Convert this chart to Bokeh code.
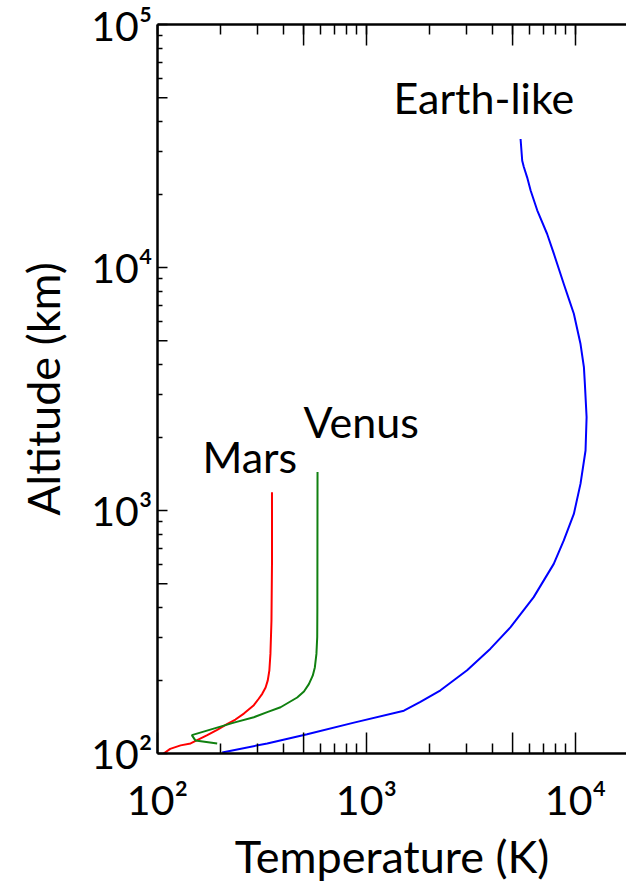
import math
from bokeh.plotting import figure
from bokeh.models import FixedTicker, LogAxis, Range1d
from bokeh.core.properties import value
from bokeh.embed import file_html
from bokeh.resources import INLINE

# ---------------- data ----------------
earth_T = [204, 335, 520, 871, 1510, 1811, 2260, 3030, 3918, 4890, 6310, 7870, 8790, 9820,
           10570, 11170, 11300, 11090, 10970, 10570, 9820, 9290, 8790, 7870, 7310, 6560,
           6100, 5870, 5660, 5560, 5460]
earth_alt = [101, 110, 120, 134, 150, 163, 182, 220, 270, 331, 440, 603, 753, 968,
             1290, 1766, 2420, 3312, 3890, 4840, 6450, 7430, 8550, 11430, 13770, 17200,
             20750, 23500, 25900, 27500, 33800]

mars_T = [107, 115, 129, 144, 173, 193, 215, 236, 259, 289, 305, 317, 329, 337, 343, 347, 351, 353, 353]
mars_alt = [100, 104.5, 108, 110, 119, 125, 132, 138, 146, 158, 168, 176, 187, 200, 220, 257, 352, 603, 1190]

venus_T = [193, 152, 146, 200, 232, 289, 335, 388, 466, 502, 530, 553, 566, 576, 581, 582, 583]
venus_alt = [110, 113, 119, 129, 134, 141, 148, 155, 170, 180, 193, 209, 226, 257, 301, 400, 1440]

labels = ["Earth-like", "Mars", "Venus"]
label_T = [1346, 164, 500]
label_alt = [43000, 1433, 1995]

x_decades = [100, 1000, 10000]
y_decades = [100, 1000, 10000, 100000]
x_fives = [500, 5000]
y_fives = [500, 5000, 50000]
x_minor = [m * 10 ** k for k in (2, 3, 4) for m in (2, 3, 4, 6, 7, 8, 9)]
y_minor = [m * 10 ** k for k in (2, 3, 4) for m in (2, 3, 4, 6, 7, 8, 9)]
tick_text = {100: "10²", 1000: "10³", 10000: "10⁴", 100000: "10⁵"}

X_MIN, X_MAX = 100, 17540
Y_MIN, Y_MAX = 100, 100000

FONT = "Lato"

p = figure(width=626, height=887, x_axis_type="log", y_axis_type="log",
           x_range=Range1d(X_MIN, X_MAX), y_range=Range1d(Y_MIN, Y_MAX),
           output_backend="svg", toolbar_location=None,
           min_border_left=157, min_border_right=0, min_border_top=24,
           min_border_bottom=134)
p.outline_line_color = None
p.grid.visible = False
p.background_fill_color = "white"
p.border_fill_color = "white"

p.line(earth_T, earth_alt, line_color="#0000ff", line_width=2)
p.line(mars_T, mars_alt, line_color="#ff0000", line_width=2)
p.line(venus_T, venus_alt, line_color="#108010", line_width=2)

p.text(x=label_T, y=label_alt, text=labels, text_font=value(FONT),
       text_font_size="43px", text_color="black", text_baseline="alphabetic",
       text_align="left", y_offset=-16)

xa = p.xaxis[0]
ya = p.yaxis[0]
xa.ticker = FixedTicker(ticks=x_decades, minor_ticks=x_minor)
ya.ticker = FixedTicker(ticks=y_decades, minor_ticks=y_minor)
for ax in (xa, ya):
    ax.major_label_overrides = tick_text
    ax.major_label_text_font = FONT
    ax.major_label_text_font_size = "41px"
    ax.major_label_text_color = "black"
    ax.axis_label_text_font = FONT
    ax.axis_label_text_font_size = "45px"
    ax.axis_label_text_font_style = "normal"
    ax.axis_label_text_color = "black"
    ax.axis_line_width = 2.5
    ax.axis_line_color = "black"
    ax.major_tick_line_color = "black"
    ax.minor_tick_line_color = "black"
    ax.major_tick_line_width = 1.5
    ax.minor_tick_line_width = 1.5
    ax.major_tick_out = 0
    ax.minor_tick_out = 0

xa.axis_label = "Temperature (K)"
xa.major_tick_in = 21
xa.minor_tick_in = 10
xa.major_label_standoff = 21
xa.axis_label_standoff = 2

ya.axis_label = "Altitude (km)"
ya.major_tick_in = 10
ya.minor_tick_in = 5
ya.major_label_standoff = 5
ya.axis_label_standoff = 18

# top border line with minor ticks (no labels)
top = LogAxis(ticker=FixedTicker(ticks=[], minor_ticks=x_minor + x_decades + x_fives),
              axis_line_width=2.5, axis_line_color="black",
              minor_tick_in=10, minor_tick_out=0, minor_tick_line_width=1.5,
              minor_tick_line_color="black")
p.add_layout(top, "above")

# longer ticks at 1x and 5x positions
half_pi = math.pi / 2
p.ray(x=x_fives, y=[Y_MIN] * len(x_fives), length=21, length_units="screen",
      angle=half_pi, line_color="black", line_width=1.5)
p.ray(x=x_fives + x_decades, y=[Y_MAX] * (len(x_fives) + len(x_decades)), length=21,
      length_units="screen", angle=-half_pi, line_color="black", line_width=1.5)
p.ray(x=[X_MIN] * len(y_fives), y=y_fives, length=10, length_units="screen",
      angle=0, line_color="black", line_width=1.5)

open("out.html", "w").write(file_html(p, INLINE))
